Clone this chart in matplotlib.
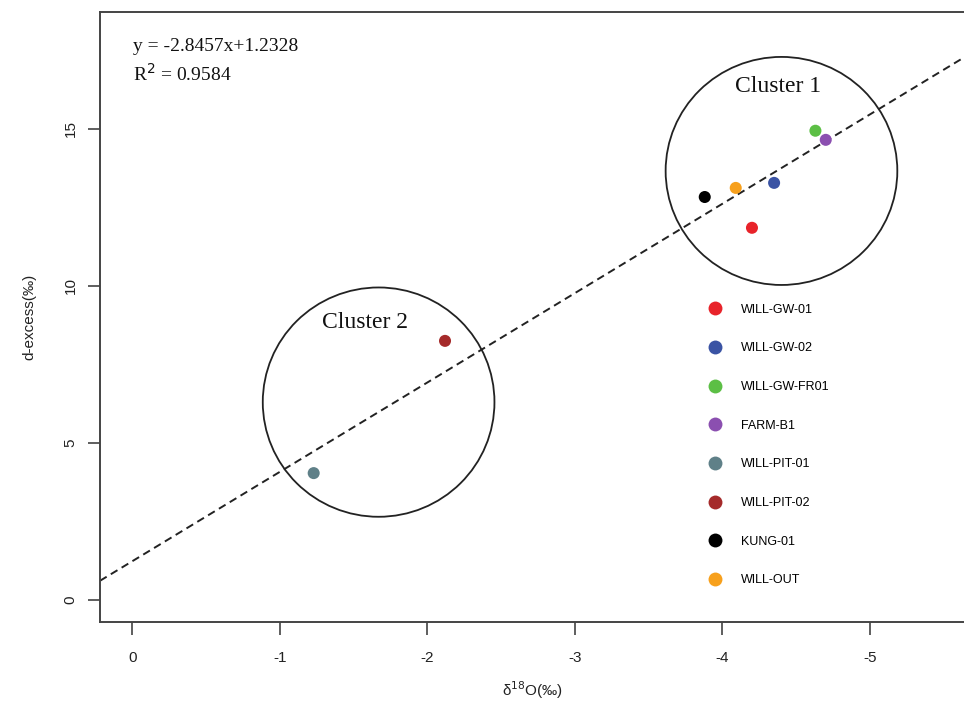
import matplotlib
matplotlib.use("Agg")
import matplotlib.pyplot as plt
import numpy as np
from matplotlib.patches import Ellipse
from matplotlib.lines import Line2D

# sample data
samples = ["WILL-GW-01", "WILL-GW-02", "WILL-GW-FR01", "FARM-B1",
           "WILL-PIT-01", "WILL-PIT-02", "KUNG-01", "WILL-OUT"]
d18o = [-4.20, -4.35, -4.63, -4.70, -1.23, -2.12, -3.88, -4.09]
dexcess = [11.85, 13.28, 14.94, 14.65, 4.04, 8.25, 12.83, 13.12]
colors = ["#e8232a", "#3a53a4", "#5cbf45", "#8b4fb0",
          "#5f8088", "#a52a2a", "#000000", "#f7a01c"]

slope = -2.8457
intercept = 1.2328
r2 = 0.9584

x_ticks = [0, -1, -2, -3, -4, -5]
x_tick_labels = ["0", "-1", "-2", "-3", "-4", "-5"]
y_ticks = [0, 5, 10, 15]

# cluster ellipses: centre x, centre y, width, height, label x, label y
clusters = {
    "Cluster 1": (-4.40, 13.66, 1.57, 7.26, -4.38, 16.35),
    "Cluster 2": (-1.67, 6.30, 1.57, 7.30, -1.58, 8.85),
}

serif = ["Liberation Serif", "DejaVu Serif"]
sans = ["Liberation Sans", "DejaVu Sans"]

fig = plt.figure(figsize=(9.64, 7.03), dpi=100)
ax = fig.add_axes([100 / 964, 1 - 622 / 703, 866 / 964, 610 / 703])

x_left, x_right = 0.218, -(966 - 132) / 147.6
ax.set_xlim(x_left, x_right)
ax.set_ylim(-0.7, 18.72)

xs = np.array([x_left, x_right])
ax.plot(xs, slope * xs + intercept, color="#222222", lw=1.4,
        dashes=(4, 2.5), zorder=2)

ax.scatter(d18o, dexcess, s=75, c=colors, edgecolors="none", zorder=3)

for name, (cx, cy, w, h, tx, ty) in clusters.items():
    ax.add_patch(Ellipse((cx, cy), w, h, fill=False, ec="#222222",
                         lw=1.3, zorder=2))
    ax.text(tx, ty, name, ha="center", va="center", fontsize=17,
            family=serif, color="#111111")

ax.text(0.038, 0.944, f"y = {slope}x+{intercept}", transform=ax.transAxes,
        fontsize=14, family=serif, va="center", color="#111111")
ax.text(0.038, 0.899, f"R$^2$ = {r2}", transform=ax.transAxes,
        fontsize=14, family=serif, va="center", color="#111111")

handles = [Line2D([], [], ls="none", marker="o", ms=10, mfc=c, mec="none")
           for c in colors]
ax.legend(handles, samples, loc="upper left", bbox_to_anchor=(0.688, 0.54),
          frameon=False, prop={"family": sans, "size": 9},
          labelspacing=2.13, handletextpad=1.5, handlelength=1.2)

ax.set_xticks(x_ticks)
ax.set_xticklabels(x_tick_labels, family=sans, fontsize=11)
ax.set_yticks(y_ticks)
ax.set_yticklabels([str(v) for v in y_ticks], family=sans, fontsize=11,
                   rotation=90, va="center")
ax.tick_params(axis="x", direction="out", length=9, width=1.1,
               color="#333333", pad=12, labelcolor="#222222")
ax.tick_params(axis="y", direction="out", length=9, width=1.1,
               color="#333333", pad=7, labelcolor="#222222")

for side in ["left", "bottom", "top"]:
    ax.spines[side].set_color("#444444")
    ax.spines[side].set_linewidth(1.4)
ax.spines["right"].set_visible(False)

ax.set_xlabel("δ$^{18}$O(‰)", family=sans, fontsize=11, labelpad=10,
              color="#222222")
ax.set_ylabel("d-excess(‰)", family=sans, fontsize=11, labelpad=20,
              color="#222222")

fig.savefig("out.png", dpi=100)
